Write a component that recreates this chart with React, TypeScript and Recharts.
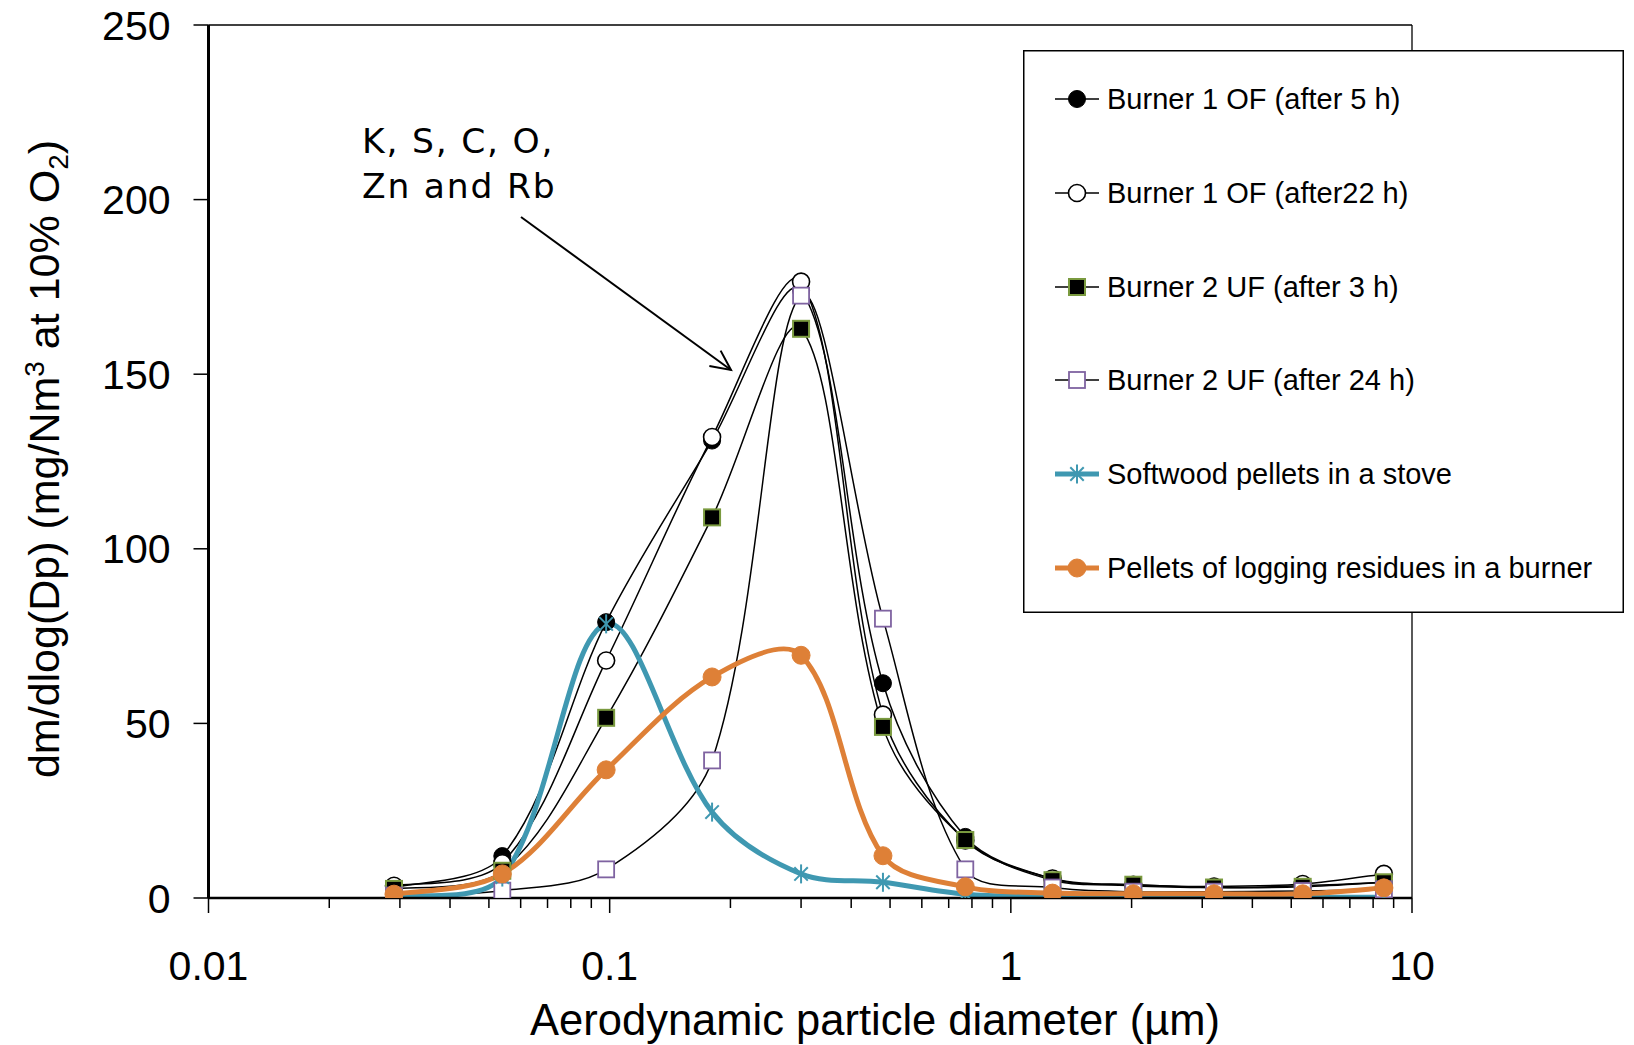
import React from "react";
import { LineChart, Line, XAxis, YAxis, ReferenceLine, Legend } from "recharts";

// ---- data ----
const diameters = [0.029, 0.054, 0.098, 0.18, 0.3, 0.48, 0.77, 1.27, 2.02, 3.21, 5.34, 8.51];
const burner1OF5h = [3, 12, 79, 131, 174, 61.5, 17.5, 5.5, 3.5, 3, 3.5, 4.5];
const burner1OF22h = [3.5, 10, 68, 132, 176.5, 52.5, 16.5, 5.6, 3.8, 3.3, 4, 6.9];
const burner2UF3h = [2.6, 7.8, 51.6, 109, 163, 49, 16.6, 5.1, 3.8, 3, 3.2, 4.5];
const burner2UF24h = [0.7, 2.1, 8.2, 39.4, 172.5, 80, 8.2, 3, 1.8, 1.8, 2, 2.5];
const softwoodStove = [0.4, 6, 78.5, 24.6, 6.9, 4.5, 1.1, 0.5, 0.3, 0.2, 0.2, 0.2];
const loggingResidues = [1.1, 6.9, 36.7, 63.3, 69.5, 12.1, 3.2, 1.4, 1.2, 1.2, 1.2, 2.9];

const seriesNames = [
  "Burner 1 OF (after 5 h)",
  "Burner 1 OF (after22 h)",
  "Burner 2 UF (after 3 h)",
  "Burner 2 UF (after 24 h)",
  "Softwood pellets in a stove",
  "Pellets of logging residues in a burner",
];
const yTicks = [0, 50, 100, 150, 200, 250];
const xAllTicks: number[] = [];
[0.01, 0.1, 1].forEach((dec) => {
  for (let m = 1; m < 10; m++) xAllTicks.push(+(dec * m).toPrecision(3));
});
xAllTicks.push(10);

const keys = ["b15", "b122", "b23", "b224", "soft", "log"];
const values = [burner1OF5h, burner1OF22h, burner2UF3h, burner2UF24h, softwoodStove, loggingResidues];
const data = diameters.map((d, i) => {
  const row: any = { d };
  keys.forEach((k, j) => (row[k] = values[j][i]));
  return row;
});

const TEAL = "#3f98b1";
const ORANGE = "#de8037";
const GREEN = "#7a9a3f";
const PURPLE = "#7f63a1";
const FONT = "'Liberation Sans', Arial, sans-serif";

// Excel-like smoothing: Catmull-Rom tangents, weighted by adjacent chord lengths
const excelSmooth: any = (context: any) => {
  let pts: [number, number][] = [];
  return {
    areaStart() {},
    areaEnd() {},
    lineStart() {
      pts = [];
    },
    point(x: number, y: number) {
      pts.push([+x, +y]);
    },
    lineEnd() {
      const n = pts.length;
      if (!n) return;
      context.moveTo(pts[0][0], pts[0][1]);
      if (n === 1) return;
      const dist = (a: [number, number], b: [number, number]) => Math.hypot(b[0] - a[0], b[1] - a[1]);
      // tangent scale factors at each point
      const out: [number, number][] = [];
      const inn: [number, number][] = [];
      for (let i = 0; i < n; i++) {
        const p0 = pts[Math.max(0, i - 1)];
        const p2 = pts[Math.min(n - 1, i + 1)];
        const tx = p2[0] - p0[0];
        const ty = p2[1] - p0[1];
        const dPrev = i > 0 ? dist(pts[i - 1], pts[i]) : 0;
        const dNext = i < n - 1 ? dist(pts[i], pts[i + 1]) : 0;
        const sum = dPrev + dNext || 1;
        const fOut = i === 0 || i === n - 1 ? 1 / 6 : dNext / sum / 3;
        const fIn = i === 0 || i === n - 1 ? 1 / 6 : dPrev / sum / 3;
        out.push([pts[i][0] + tx * fOut, pts[i][1] + ty * fOut]);
        inn.push([pts[i][0] - tx * fIn, pts[i][1] - ty * fIn]);
      }
      for (let i = 0; i < n - 1; i++) {
        context.bezierCurveTo(out[i][0], out[i][1], inn[i + 1][0], inn[i + 1][1], pts[i + 1][0], pts[i + 1][1]);
      }
    },
  };
};

type MarkerKind = "filledCircle" | "openCircle" | "filledSquare" | "openSquare" | "asterisk" | "orangeCircle";

const Marker = ({ kind, cx, cy }: { kind: MarkerKind; cx: number; cy: number }) => {
  if (cx == null || cy == null || isNaN(cx) || isNaN(cy)) return null;
  switch (kind) {
    case "filledCircle":
      return <circle cx={cx} cy={cy} r={8.5} fill="#000" stroke="#000" strokeWidth={1} />;
    case "openCircle":
      return <circle cx={cx} cy={cy} r={8.5} fill="#fff" stroke="#000" strokeWidth={1.6} />;
    case "filledSquare":
      return <rect x={cx - 8} y={cy - 8} width={16} height={16} fill="#000" stroke={GREEN} strokeWidth={2} />;
    case "openSquare":
      return <rect x={cx - 8} y={cy - 8} width={16} height={16} fill="#fff" stroke={PURPLE} strokeWidth={1.8} />;
    case "asterisk": {
      const s = 9.5;
      const dx = s * Math.cos(Math.PI / 4);
      return (
        <g stroke={TEAL} strokeWidth={2}>
          <line x1={cx} y1={cy - s} x2={cx} y2={cy + s} />
          <line x1={cx - dx} y1={cy - dx} x2={cx + dx} y2={cy + dx} />
          <line x1={cx - dx} y1={cy + dx} x2={cx + dx} y2={cy - dx} />
        </g>
      );
    }
    case "orangeCircle":
      return <circle cx={cx} cy={cy} r={9} fill={ORANGE} stroke={ORANGE} strokeWidth={1} />;
  }
  return null;
};

const seriesStyle: { kind: MarkerKind; color: string; width: number }[] = [
  { kind: "filledCircle", color: "#000", width: 1.5 },
  { kind: "openCircle", color: "#000", width: 1.5 },
  { kind: "filledSquare", color: "#000", width: 1.5 },
  { kind: "openSquare", color: "#000", width: 1.5 },
  { kind: "asterisk", color: TEAL, width: 5 },
  { kind: "orangeCircle", color: ORANGE, width: 5 },
];

const XTick = (props: any) => {
  const { x, y, payload } = props;
  const v = payload.value;
  const lg = Math.log10(v);
  const major = Math.abs(lg - Math.round(lg)) < 1e-6;
  return (
    <g>
      <line x1={x} y1={y} x2={x} y2={y + (major ? 15 : 10)} stroke="#000" strokeWidth={1.5} />
      {major && (
        <text x={x} y={y + 82} textAnchor="middle" fontSize={41} fontFamily={FONT} fill="#000">
          {String(v)}
        </text>
      )}
    </g>
  );
};

const LegendBox = () => {
  const rowY = [49, 143, 237, 330, 424, 518];
  return (
    <svg width={601} height={563} style={{ display: "block" }}>
      <rect x={0.75} y={0.75} width={599.5} height={561.5} fill="#fff" stroke="#000" strokeWidth={1.5} />
      {seriesNames.map((name, i) => {
        const st = seriesStyle[i];
        const cy = rowY[i];
        return (
          <g key={name}>
            <line x1={32} y1={cy} x2={76} y2={cy} stroke={st.color} strokeWidth={st.width} />
            <Marker kind={st.kind} cx={54} cy={cy} />
            <text x={84} y={cy + 10} fontSize={29} fontFamily={FONT} fill="#000">
              {name}
            </text>
          </g>
        );
      })}
    </svg>
  );
};

// arrow geometry for annotation
const arrowFrom = [521, 217];
const arrowTo = [731, 370];

export default function App() {
  const ang = Math.atan2(arrowTo[1] - arrowFrom[1], arrowTo[0] - arrowFrom[0]);
  const headLen = 22;
  const h1 = [arrowTo[0] - headLen * Math.cos(ang - 0.45), arrowTo[1] - headLen * Math.sin(ang - 0.45)];
  const h2 = [arrowTo[0] - headLen * Math.cos(ang + 0.45), arrowTo[1] - headLen * Math.sin(ang + 0.45)];
  return (
    <div style={{ position: "absolute", left: 0, top: 0, width: 1634, height: 1045, background: "#fff" }}>
      <LineChart width={1634} height={1045} data={data} margin={{ top: 25, right: 222, bottom: 0, left: 0 }}>
        <XAxis
          dataKey="d"
          type="number"
          scale="log"
          domain={[0.01, 10]}
          ticks={xAllTicks}
          interval={0}
          allowDataOverflow
          height={147}
          tickSize={0}
          tickMargin={0}
          tick={<XTick />}
          axisLine={{ stroke: "#000", strokeWidth: 2.5 }}
          tickLine={false}
        />
        <YAxis
          type="number"
          domain={[0, 250]}
          ticks={yTicks}
          width={208.5}
          allowDataOverflow
          tickSize={15}
          tickMargin={23}
          axisLine={{ stroke: "#000", strokeWidth: 3 }}
          tickLine={{ stroke: "#000", strokeWidth: 1.5 }}
          tick={{ fontSize: 41, fontFamily: FONT, fill: "#000" }}
        />
        <ReferenceLine y={250} stroke="#000" strokeWidth={1.3} />
        <ReferenceLine x={10} stroke="#000" strokeWidth={1.3} />
        {keys.map((k, i) => (
          <Line
            key={k}
            dataKey={k}
            name={seriesNames[i]}
            type={excelSmooth}
            stroke={seriesStyle[i].color}
            strokeWidth={seriesStyle[i].width}
            isAnimationActive={false}
            dot={(p: any) => (
              <g key={`${k}-${p.index}`}>
                <Marker kind={seriesStyle[i].kind} cx={p.cx} cy={p.cy} />
              </g>
            )}
            activeDot={false}
            legendType="line"
          />
        ))}
        <Legend
          layout="vertical"
          align="center"
          verticalAlign="middle"
          content={() => <LegendBox />}
          wrapperStyle={{ position: "absolute", left: 1023, top: 50, width: 601, height: 563 }}
        />
      </LineChart>
      <svg
        width={1634}
        height={1045}
        style={{ position: "absolute", left: 0, top: 0, pointerEvents: "none" }}
      >
        <text x={875} y={1035} textAnchor="middle" fontSize={43.5} fontFamily={FONT} fill="#000">
          Aerodynamic particle diameter (µm)
        </text>
        <text
          x={0}
          y={0}
          transform="translate(59, 459) rotate(-90)"
          textAnchor="middle"
          fontSize={43}
          fontFamily={FONT}
          fill="#000"
        >
          dm/dlog(Dp) (mg/Nm<tspan dy={-15} fontSize={28}>3</tspan>
          <tspan dy={15}> at 10% O</tspan>
          <tspan dy={9} fontSize={28}>2</tspan>
          <tspan dy={-9}>)</tspan>
        </text>
        <text x={362} y={153} fontSize={34.5} fontFamily="'DejaVu Sans', Verdana, sans-serif" letterSpacing={1.8} fill="#000">
          K, S, C, O,
        </text>
        <text x={362} y={198} fontSize={34.5} fontFamily="'DejaVu Sans', Verdana, sans-serif" letterSpacing={1.8} fill="#000">
          Zn and Rb
        </text>
        <line x1={arrowFrom[0]} y1={arrowFrom[1]} x2={arrowTo[0]} y2={arrowTo[1]} stroke="#000" strokeWidth={2} />
        <polyline
          points={`${h1[0]},${h1[1]} ${arrowTo[0]},${arrowTo[1]} ${h2[0]},${h2[1]}`}
          fill="none"
          stroke="#000"
          strokeWidth={2}
        />
      </svg>
    </div>
  );
}
